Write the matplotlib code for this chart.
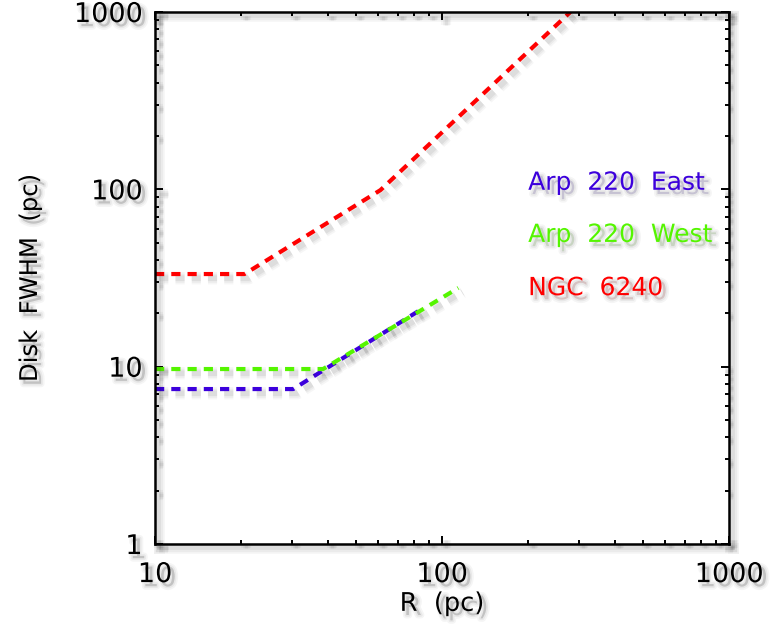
import matplotlib
matplotlib.use("Agg")
import matplotlib.pyplot as plt
import matplotlib.patheffects as pe

# values (pc)
east_r = [10, 30.3, 86]
east_fwhm = [7.48, 7.48, 21.4]

west_r = [10, 38.5, 114]
west_fwhm = [9.7, 9.7, 27.8]

ngc_r = [10, 20.5, 61, 280]
ngc_fwhm = [33.3, 33.3, 99, 1000]

labels = ["Arp 220 East", "Arp 220 West", "NGC 6240"]
colors = ["#3c00dc", "#55f500", "#ff0000"]

xticks = [10, 100, 1000]
yticks = [1, 10, 100, 1000]


def line_shadow(lw):
    """fake blurred drop shadow, IDL style"""
    fx = []
    for w, a in [(lw + 6, 0.035), (lw + 3.5, 0.045), (lw + 1, 0.06)]:
        fx.append(pe.SimpleLineShadow(offset=(3, -3), shadow_color="k",
                                      alpha=a, linewidth=w))
    fx.append(pe.Normal())
    return fx


def text_shadow():
    return [pe.Stroke(offset=(3, -3), linewidth=5, foreground="k", alpha=0.04),
            pe.Stroke(offset=(3, -3), linewidth=2.5, foreground="k", alpha=0.05),
            pe.SimplePatchShadow(offset=(3, -3), shadow_rgbFace="k", alpha=0.08),
            pe.Normal()]


fig = plt.figure(figsize=(7.74, 6.32), dpi=100)
ax = fig.add_axes([0.2003, 0.1392, 0.7416, 0.8418])

lw = 3
for xs, ys, c in [(east_r, east_fwhm, colors[0]),
                  (west_r, west_fwhm, colors[1]),
                  (ngc_r, ngc_fwhm, colors[2])]:
    ln, = ax.plot(xs, ys, color=c, lw=lw, dashes=(2.2, 1.7),
                  dash_capstyle="butt")
    ln.set_path_effects(line_shadow(lw))

ax.set_xscale("log")
ax.set_yscale("log")
ax.set_xlim(10, 1000)
ax.set_ylim(1, 1000)
ax.set_xticks(xticks)
ax.set_xticklabels([str(t) for t in xticks])
ax.set_yticks(yticks)
ax.set_yticklabels([str(t) for t in yticks])

ax.tick_params(which="both", direction="in", top=True, right=True, width=1.4)
ax.tick_params(which="major", length=6)
ax.tick_params(which="minor", length=3)
ax.tick_params(axis="x", which="major", pad=13, labelsize=19.5)
ax.tick_params(axis="y", which="major", pad=9, labelsize=19.5)

for sp in ax.spines.values():
    sp.set_linewidth(1.8)
    sp.set_path_effects(line_shadow(1.8))

for axis in [ax.xaxis, ax.yaxis]:
    for t in axis.get_major_ticks() + axis.get_minor_ticks():
        t.tick1line.set_path_effects(line_shadow(1.4))
        t.tick2line.set_path_effects(line_shadow(1.4))
    for lab in axis.get_ticklabels():
        lab.set_path_effects(text_shadow())

ax.set_xlabel("R  (pc)", fontsize=18.5)
ax.set_ylabel("Disk  FWHM  (pc)", fontsize=17.5)
ax.xaxis.set_label_coords(0.5, -0.088)
ax.yaxis.set_label_coords(-0.197, 0.5)
ax.xaxis.label.set_path_effects(text_shadow())
ax.yaxis.label.set_path_effects(text_shadow())

# series labels placed inside the axes
lab_y = [0.679, 0.581, 0.481]
for name, c, yy in zip(labels, colors, lab_y):
    ax.text(0.65, yy, name.replace(" ", "  "), color=c, fontsize=18,
            transform=ax.transAxes, va="center", ha="left",
            path_effects=text_shadow())

fig.savefig("out.png", dpi=100)
